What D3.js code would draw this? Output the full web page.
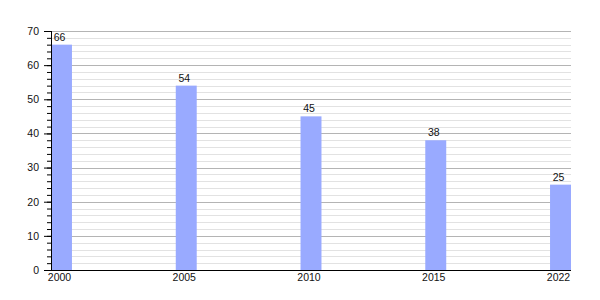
<!DOCTYPE html>
<html>
<head>
<meta charset="utf-8">
<script src="https://cdn.jsdelivr.net/npm/d3@7"></script>
<style>
  body { margin: 0; background: #fff; }
  text { font-family: "Liberation Sans", Arial, sans-serif; }
</style>
</head>
<body>
<div id="chart"></div>
<script>
const years = ["2000", "2005", "2010", "2015", "2022"];
const values = [66, 54, 45, 38, 25];
const yMajorTicks = [0, 10, 20, 30, 40, 50, 60, 70];

const margin = { top: 31, right: 29, bottom: 30, left: 51 };
const fullWidth = 600;
const fullHeight = 300;
const width = fullWidth - margin.left - margin.right;
const height = fullHeight - margin.top - margin.bottom;

const svg = d3
  .select("#chart")
  .append("svg")
  .attr("width", fullWidth)
  .attr("height", fullHeight)
  .append("g")
  .attr("transform", `translate(${margin.left}, ${margin.top})`);

const xScale = d3
  .scaleBand()
  .domain(years)
  .range([0, width])
  .paddingInner(0.832)
  .paddingOuter(0);

const yScale = d3.scaleLinear().domain([0, 70]).range([height, 0]);

// minor grid every 2
svg
  .append("g")
  .selectAll("line")
  .data(d3.range(0, 71, 2).filter(d => d % 10 !== 0))
  .join("line")
  .attr("x1", 0)
  .attr("x2", width)
  .attr("y1", d => Math.round(yScale(d)) + 0.5)
  .attr("y2", d => Math.round(yScale(d)) + 0.5)
  .attr("stroke", "#e2e2e2");

// major grid every 10
svg
  .append("g")
  .selectAll("line")
  .data(yMajorTicks.slice(1))
  .join("line")
  .attr("x1", 0)
  .attr("x2", width)
  .attr("y1", d => Math.round(yScale(d)) + 0.5)
  .attr("y2", d => Math.round(yScale(d)) + 0.5)
  .attr("stroke", "#b4b4b4");

svg
  .selectAll(".bar")
  .data(values)
  .join("rect")
  .attr("class", "bar")
  .attr("x", (d, i) => xScale(years[i]))
  .attr("width", xScale.bandwidth())
  .attr("y", d => yScale(d))
  .attr("height", d => height - yScale(d))
  .attr("fill", "#99aaff");

svg
  .selectAll(".val")
  .data(values)
  .join("text")
  .attr("class", "val")
  .attr("x", (d, i) => xScale(years[i]) + xScale.bandwidth() / 2 - 2)
  .attr("y", d => yScale(d) - 4)
  .attr("text-anchor", "middle")
  .attr("font-size", 10.5)
  .attr("fill", "#111")
  .text(d => d);

// y axis with minor ticks
const yMinor = d3
  .axisLeft(yScale)
  .tickValues(d3.range(0, 71, 2))
  .tickSize(4)
  .tickFormat("");
svg.append("g").call(yMinor).call(g => g.select(".domain").remove());

const yAxis = d3
  .axisLeft(yScale)
  .tickValues(yMajorTicks)
  .tickSize(7)
  .tickPadding(5)
  .tickFormat(d3.format("d"));
svg
  .append("g")
  .call(yAxis)
  .call(g => g.select(".domain").attr("d", `M0.5,0V${height}`))
  .call(g => g.selectAll("text").attr("font-size", 10.5).attr("fill", "#111"));

const xAxis = d3.axisBottom(xScale).tickSize(0).tickPadding(4);
svg
  .append("g")
  .attr("transform", `translate(0, ${height})`)
  .call(xAxis)
  .call(g => g.select(".domain").attr("d", `M0,0.5H${width}`))
  .call(g => g.selectAll("text").attr("font-size", 10.5).attr("fill", "#111").attr("dx", -2));
</script>
</body>
</html>
